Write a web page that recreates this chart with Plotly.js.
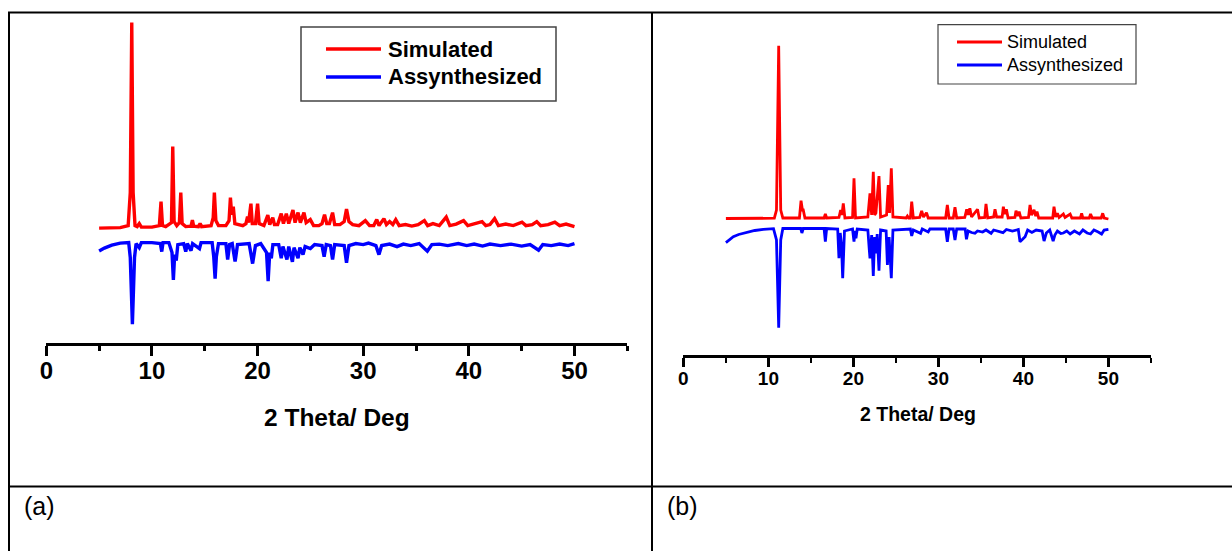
<!DOCTYPE html>
<html>
<head>
<meta charset="utf-8">
<script src="https://cdn.plot.ly/plotly-3.0.1.min.js"></script>
<style>
html,body{margin:0;padding:0;background:#fff;}
#chart{width:1232px;height:551px;}
</style>
</head>
<body>
<div id="chart"></div>
<script>
// ---------- DATA (intensity in arbitrary units) ----------
const xTickLabels = ["0","10","20","30","40","50"];
const xTickVals = [0,10,20,30,40,50];
const seriesNames = ["Simulated","Assynthesized"];
const axisTitle = "2 Theta/ Deg";
const panelLabels = ["(a)","(b)"];

// (a) Simulated
const aSimX = [5,7.0,7.75,7.95,8.09,8.22,8.4,8.6,8.8,9.0,10.0,10.7,10.86,11.0,11.3,11.85,11.97,12.1,12.35,12.6,12.73,12.86,13.2,13.7,13.83,13.95,14.4,14.56,14.7,15.6,15.8,15.91,16.05,16.3,17.0,17.3,17.43,17.55,17.7,17.85,18.6,18.9,19.05,19.15,19.37,19.5,19.8,20.0,20.15,20.6,20.97,21.15,21.44,21.6,21.9,22.24,22.45,22.72,22.95,23.35,23.55,23.83,24.05,24.39,24.6,24.99,25.3,25.8,26.1,26.34,26.55,26.8,27.1,27.3,27.8,28.2,28.42,28.65,29.0,29.6,30.2,30.6,31.0,31.28,31.5,31.96,32.2,32.5,32.8,33.08,33.4,34.0,34.6,35.2,35.79,36.1,36.6,37.2,37.86,38.2,38.8,39.5,39.9,40.5,41.25,41.6,42.0,42.44,42.8,43.5,44.2,45.03,45.4,46.0,46.43,46.8,47.5,48.14,48.6,49.2,50];
const aSimY = [114.5,115,117,150,320,150,117,116,119,115.5,115.5,117,141,117,116,120,196,121,117,120,150,119,116,116.5,122.5,116.5,116,119,116,117,125,150,122,117,117,122,145,128,136,119,117,119,126,120,139,119,119,139,119,117,127.5,118,125,118,118,129,119,129,119,132.5,120,130,120,130,120,123,117,117,119,128,119,119,130,118,118,121,133.5,121,118,117,122,117,117,123,117,124,118,121,118,123,117,118,116.5,118,122,117,119,117,125.5,117,118.5,122,117,119,121,117,118,124,117,118.5,117,120.5,117,118,121,117,118,120.5,117,118.5,116];
// (a) Assynthesized
const aExpX = [5,5.5,6.2,7.0,7.8,7.95,8.15,8.35,8.5,8.8,9.0,10.0,10.8,10.93,11.05,11.6,11.9,12.03,12.15,12.3,12.45,13.0,13.2,13.35,13.7,13.85,14.5,14.65,15.7,15.85,15.98,16.1,16.3,17.0,17.17,17.35,17.6,17.87,17.93,18.1,19.2,19.53,19.8,20.3,20.85,21.0,21.15,21.3,21.45,22.0,22.24,22.4,22.78,22.95,23.3,23.45,23.83,24.0,24.3,24.5,25.0,25.4,26.1,26.3,26.5,26.9,27.1,27.3,28.2,28.42,28.65,29.3,30.0,30.5,31.2,31.49,31.75,32.5,33.2,33.8,34.5,35.3,36.07,36.5,37.2,38.0,39.0,39.8,40.5,41.3,42.0,43.0,44.0,45.0,45.8,46.6,47.0,47.8,48.6,49.4,50];
const aExpY = [91.6,94.5,97.5,99.5,100,85,18.3,85,99,95,100,100,99,91,100,100,90,62.6,88,82,98,99,91,99,92,99,94,100,100,86,64,86,99,99,83,98,99,81,85,98,99,79,97,99,90,61.5,90,84.4,98,98,84.4,96,83,96,80.8,95,84.4,95,88,96,94,98,97,86,98,97,83,98,97,79.8,97,99,98,99.5,97,88,97,98.5,96,98.5,97,99,91.4,98,98.5,97,99,97,98.5,96.5,98.5,97,98.5,96.5,98,92.4,98,97,98.5,97,99];

// (b) Simulated
const bSimX = [5,10.7,10.95,11.21,11.45,11.7,13.65,13.84,14.0,14.1,14.3,16.55,16.7,16.85,18.3,18.5,18.65,18.81,19.0,19.9,20.07,20.25,21.7,21.84,21.95,22.15,22.34,22.5,22.65,23.01,23.2,23.9,24.1,24.25,24.46,24.65,26.2,26.35,26.5,26.7,26.86,27.05,27.8,28.03,28.25,28.6,28.8,30.85,31.05,31.25,31.75,31.95,32.15,33.1,33.33,33.5,33.7,33.9,34.4,34.6,34.8,35.45,35.6,35.8,36.5,36.66,36.85,37.5,37.64,37.8,38.0,38.2,39.0,39.13,39.3,39.5,39.7,40.6,40.78,40.95,41.25,41.45,41.6,41.8,43.45,43.6,43.8,44.0,44.2,44.7,44.9,45.5,45.7,46.7,46.85,47.0,47.75,47.9,48.1,49.15,49.33,49.5,50];
const bSimY = [136.5,136.8,145,309.3,145,137,137,154.3,145,145,137,137,141,137,137.5,145,140,151.7,137,137.5,176.7,137,138,150,161.7,140,183.3,140,142,179,138,140,170,142,186.7,138,137,139,137,137,153.3,137,137.5,144,138,142.3,137,137,150,137,137,147.7,137,137.5,145.7,140,146.7,138,143.3,145.7,137,137.5,151,137,138,145.7,138,138,148.3,141,145.7,137,137.5,144.3,139,143.3,137,137.5,150,140,145,139,143.3,137,137,148.3,138,141.7,137.5,141,137.5,141,137,137,141.7,137,137,141,137,137,141.7,137,136];
// (b) Assynthesized
const bExpX = [5,5.4,5.87,6.5,7.45,8.4,9.4,10.6,10.95,11.21,11.45,11.7,13.8,13.94,14.1,16.55,16.7,16.85,18.15,18.3,18.45,18.6,18.74,18.95,19.9,20.07,20.2,20.3,20.45,21.7,21.87,21.95,22.15,22.34,22.5,22.65,22.8,23.01,23.2,23.85,24.0,24.2,24.46,24.65,26.7,26.86,27.05,27.9,28.1,28.8,29.0,30.85,31.05,31.25,31.75,31.95,32.15,33.15,33.3,33.5,33.9,34.3,34.6,35.2,35.6,36.2,36.5,37.0,37.6,38.0,38.7,39.4,39.6,39.9,40.2,40.5,41.0,41.5,42.2,42.43,42.7,43.1,43.5,43.7,44.0,44.4,44.7,45.1,45.5,46.0,46.6,47.0,47.5,47.9,48.3,48.8,49.2,49.5,50];
const bExpY = [112.3,115.5,118.3,120.5,122.7,124.5,125.7,126.3,115,27.3,115,126.5,126.5,122,126.5,126.5,113.3,126.5,126,96.7,122,110,76.7,124,126,113.3,124,116.7,126,125,105,96.7,120,79,118,101.7,121,84.3,125,124,90,118,76.7,125,126,119,125,121.7,126,123,126,126,113.3,126,126,115,126,126,115.7,124,122.5,121.7,124,123,125,121.7,125,123.5,122.3,125.5,124,125.5,113.3,115.7,118.3,125,122.5,125,124,114,122,125,114,120,124,121.5,122,124,121,124,121,125,122,121,125,123,121,125,125.7];

// ---------- LAYOUT HELPERS (pixel -> paper) ----------
const W = 1232, H = 551;
const px = x => x / W;
const py = y => 1 - y / H;

const RED = '#ff0000', BLUE = '#0000ff';

const traces = [
  {x: aSimX, y: aSimY, name: seriesNames[0], mode: 'lines', line: {color: RED, width: 3.4}, xaxis: 'x', yaxis: 'y', showlegend: false, hoverinfo: 'skip'},
  {x: aExpX, y: aExpY, name: seriesNames[1], mode: 'lines', line: {color: BLUE, width: 3.4}, xaxis: 'x', yaxis: 'y', showlegend: false, hoverinfo: 'skip'},
  {x: bSimX, y: bSimY, name: seriesNames[0], mode: 'lines', line: {color: RED, width: 2.8}, xaxis: 'x2', yaxis: 'y2', showlegend: false, hoverinfo: 'skip'},
  {x: bExpX, y: bExpY, name: seriesNames[1], mode: 'lines', line: {color: BLUE, width: 2.8}, xaxis: 'x2', yaxis: 'y2', showlegend: false, hoverinfo: 'skip'}
];

const FONT = 'Arial, "Liberation Sans", sans-serif';

function xAxis(domain, lw, tl, mtl, fs, so) {
  return {
    domain: domain, range: [0, 55], showgrid: false, zeroline: false,
    showline: true, linecolor: '#000', linewidth: lw,
    ticks: 'outside', ticklen: tl, tickwidth: lw, tickcolor: '#000',
    ticklabelstandoff: so,
    tickmode: 'array', tickvals: xTickVals, ticktext: xTickLabels,
    tickfont: {family: FONT, size: fs, color: '#000', weight: 700},
    minor: {tickmode: 'linear', tick0: 5, dtick: 10, ticks: 'outside', ticklen: mtl, tickwidth: lw, tickcolor: '#000', showgrid: false},
    fixedrange: true
  };
}

const layout = {
  width: W, height: H,
  margin: {l: 0, r: 0, t: 0, b: 0, pad: 0},
  paper_bgcolor: '#fff', plot_bgcolor: 'rgba(0,0,0,0)',
  showlegend: false,
  xaxis: Object.assign(xAxis([px(46.3), px(627.3)], 3, 10, 5, 24, -5), {anchor: 'y'}),
  yaxis: {domain: [py(342.6), py(12)], range: [0, 330.6], visible: false, fixedrange: true, anchor: 'x'},
  xaxis2: Object.assign(xAxis([px(683.4), px(1150.9)], 2.5, 9, 5, 19, -4), {anchor: 'y2'}),
  yaxis2: {domain: [py(355), py(12)], range: [0, 343], visible: false, fixedrange: true, anchor: 'x2'},
  shapes: [
    // table lines
    {type: 'line', xref: 'paper', yref: 'paper', x0: px(8), x1: px(1232), y0: py(12.5), y1: py(12.5), line: {color: '#000', width: 2}},
    {type: 'line', xref: 'paper', yref: 'paper', x0: px(9), x1: px(9), y0: py(12), y1: py(551), line: {color: '#000', width: 2}},
    {type: 'line', xref: 'paper', yref: 'paper', x0: px(652), x1: px(652), y0: py(12), y1: py(551), line: {color: '#000', width: 2}},
    {type: 'line', xref: 'paper', yref: 'paper', x0: px(8), x1: px(1232), y0: py(486.5), y1: py(486.5), line: {color: '#000', width: 2}},
    // legend (a)
    {type: 'rect', xref: 'paper', yref: 'paper', x0: px(301), x1: px(556), y0: py(27), y1: py(101), line: {color: '#444', width: 1.5}, fillcolor: '#fff'},
    {type: 'line', xref: 'paper', yref: 'paper', x0: px(326), x1: px(381), y0: py(49), y1: py(49), line: {color: RED, width: 3.4}},
    {type: 'line', xref: 'paper', yref: 'paper', x0: px(326), x1: px(381), y0: py(77), y1: py(77), line: {color: BLUE, width: 3.4}},
    // legend (b)
    {type: 'rect', xref: 'paper', yref: 'paper', x0: px(938), x1: px(1136), y0: py(24.6), y1: py(84), line: {color: '#444', width: 1.2}, fillcolor: '#fff'},
    {type: 'line', xref: 'paper', yref: 'paper', x0: px(957), x1: px(1002), y0: py(42), y1: py(42), line: {color: RED, width: 2.8}},
    {type: 'line', xref: 'paper', yref: 'paper', x0: px(957), x1: px(1002), y0: py(65), y1: py(65), line: {color: BLUE, width: 2.8}}
  ],
  annotations: [
    {xref: 'paper', yref: 'paper', x: px(386), y: py(49), xanchor: 'left', yanchor: 'middle', text: seriesNames[0], showarrow: false, font: {family: FONT, size: 22, color: '#000', weight: 700}},
    {xref: 'paper', yref: 'paper', x: px(386), y: py(77), xanchor: 'left', yanchor: 'middle', text: seriesNames[1], showarrow: false, font: {family: FONT, size: 22, color: '#000', weight: 700}},
    {xref: 'paper', yref: 'paper', x: px(1005), y: py(42), xanchor: 'left', yanchor: 'middle', text: seriesNames[0], showarrow: false, font: {family: FONT, size: 18, color: '#000'}},
    {xref: 'paper', yref: 'paper', x: px(1005), y: py(65), xanchor: 'left', yanchor: 'middle', text: seriesNames[1], showarrow: false, font: {family: FONT, size: 18, color: '#000'}},
    {xref: 'paper', yref: 'paper', x: px(336.8), y: py(417), xanchor: 'center', yanchor: 'middle', text: axisTitle, showarrow: false, font: {family: FONT, size: 24.5, color: '#000', weight: 700}},
    {xref: 'paper', yref: 'paper', x: px(917.5), y: py(414), xanchor: 'center', yanchor: 'middle', text: axisTitle, showarrow: false, font: {family: FONT, size: 19.5, color: '#000', weight: 700}},
    {xref: 'paper', yref: 'paper', x: px(22), y: py(506), xanchor: 'left', yanchor: 'middle', text: panelLabels[0], showarrow: false, font: {family: '"Liberation Sans", Arial, sans-serif', size: 25, color: '#000'}},
    {xref: 'paper', yref: 'paper', x: px(665), y: py(506), xanchor: 'left', yanchor: 'middle', text: panelLabels[1], showarrow: false, font: {family: '"Liberation Sans", Arial, sans-serif', size: 25, color: '#000'}}
  ]
};

Plotly.newPlot('chart', traces, layout, {displayModeBar: false, staticPlot: true});
</script>
</body>
</html>
